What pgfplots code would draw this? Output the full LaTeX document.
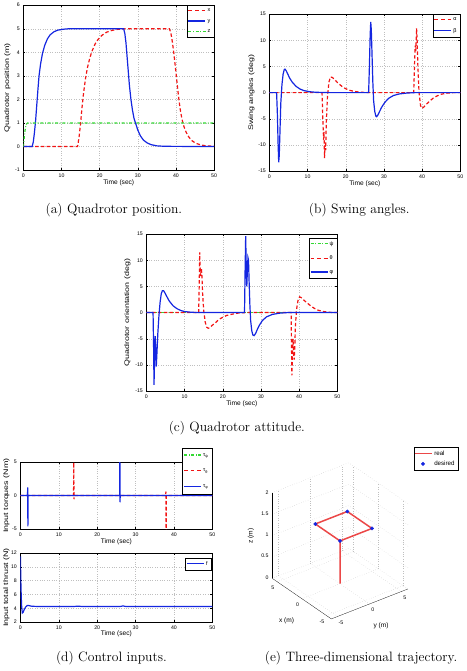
\documentclass[border=0pt]{standalone}
\usepackage{fontspec}
\usepackage{pgfplots}
\pgfplotsset{compat=1.18}
\newfontfamily\hv{Liberation Sans}
\definecolor{mred}{rgb}{0.95,0.08,0.08}
\definecolor{mblue}{rgb}{0.08,0.15,0.88}
\definecolor{mgreen}{rgb}{0.2,0.85,0.2}
\definecolor{tred}{rgb}{0.92,0.28,0.28}
\newcommand\lsolid[2][1.2pt]{\textcolor{#2}{\rule[-0.6pt]{17pt}{#1}}}
\newcommand\ldash[1]{\textcolor{#1}{\rule[-0.6pt]{3.8pt}{1.2pt}\kern2.8pt\rule[-0.6pt]{3.8pt}{1.2pt}\kern2.8pt\rule[-0.6pt]{3.8pt}{1.2pt}}}
\newcommand\ldd[1]{\textcolor{#1}{\rule[-0.6pt]{3pt}{1.2pt}\kern1.6pt\rule[-0.6pt]{0.9pt}{1.2pt}\kern1.6pt\rule[-0.6pt]{3pt}{1.2pt}\kern1.6pt\rule[-0.6pt]{0.9pt}{1.2pt}\kern1.6pt\rule[-0.6pt]{3pt}{1.2pt}}}
\pgfplotsset{
 rdash/.style={draw=mred, line width=1.2pt, dash pattern=on 3.5pt off 2.3pt,
   legend image code/.code={\node[inner sep=0pt, anchor=west] at (0pt,0pt) {\ldash{mred}};}},
 bsol/.style={draw=mblue, line width=1.2pt,
   legend image code/.code={\node[inner sep=0pt, anchor=west] at (0pt,0pt) {\lsolid{mblue}};}},
 gdd/.style={draw=mgreen, line width=1.2pt, dash pattern=on 3pt off 1.8pt on 0.8pt off 1.8pt,
   legend image code/.code={\node[inner sep=0pt, anchor=west] at (0pt,0pt) {\ldd{mgreen}};}},
 base/.style={
  scale only axis,
  xmin=0, xmax=50, xtick={0,10,20,30,40,50},
  grid=major,
  major grid style={dotted, gray!50, line width=0.4pt},
  tick align=inside,
  major tick length=2pt,
  tick style={draw=black, line width=0.4pt},
  axis line style={line width=0.5pt},
  tick label style={font=\hv\fontsize{5.2}{6}\selectfont},
  /pgf/number format/assume math mode=true,
  xlabel={Time (sec)},
  every axis x label/.style={at={(axis description cs:0.5,0)}, anchor=center, yshift=-12.5pt, font=\hv\fontsize{6.6}{7}\selectfont},
  legend cell align=left,
  legend style={font=\hv\fontsize{5.5}{6}\selectfont, inner xsep=1.5pt, inner ysep=1.5pt, at={(1,1)}, anchor=north east, row sep=2pt},
 },
 ylab/.style={every axis y label/.style={at={(axis description cs:0,0.5)}, xshift=#1, rotate=90, anchor=center, xscale=1.35, font=\hv\fontsize{6.6}{7}\selectfont}},
}
\begin{document}
\begin{tikzpicture}
\path (0pt,0pt) rectangle (465pt,671pt);
% ---------------- (a)
\begin{axis}[base, at={(22pt,501pt)}, anchor=south west, width=190.7pt, height=165pt,
 ymin=-1, ymax=6, ytick={-1,0,1,2,3,4,5,6}, ylab=-16pt, ylabel={Quadrotor position (m)}]
\addplot[rdash] coordinates {(0,0) (14.2,0) (14.6,0.4) (15.0,1.0) (15.4,1.7) (15.8,2.3) (16.3,2.9) (16.8,3.35) (17.4,3.75) (18.0,4.05) (18.8,4.35) (19.6,4.55) (20.6,4.72) (21.8,4.85) (23.0,4.92) (24.5,4.97) (26,4.99) (27,5) (38.3,5) (38.7,4.8) (39.1,4.4) (39.5,3.9) (39.9,3.3) (40.3,2.7) (40.7,2.1) (41.1,1.6) (41.6,1.15) (42.1,0.85) (42.7,0.6) (43.4,0.4) (44.2,0.25) (45.2,0.14) (46.3,0.08) (47.5,0.04) (49,0.02) (50,0.01)};
\addlegendentry{x}
\addplot[bsol] coordinates {(0,0) (2.3,0) (2.6,0.2) (2.9,0.6) (3.2,1.1) (3.5,1.75) (3.8,2.4) (4.1,3.0) (4.5,3.5) (5.0,3.95) (5.6,4.3) (6.3,4.57) (7.0,4.74) (8.0,4.87) (9.0,4.94) (10.5,4.98) (12,5) (26.3,5) (26.6,4.8) (26.9,4.4) (27.2,3.8) (27.5,3.2) (27.8,2.6) (28.2,2.0) (28.6,1.55) (29.0,1.2) (29.5,0.95) (30.0,0.7) (30.7,0.45) (31.5,0.27) (32.5,0.15) (33.5,0.08) (35,0.03) (37,0.01) (50,0)};
\addlegendentry{y}
\addplot[gdd] coordinates {(0,0) (0.2,0.35) (0.4,0.65) (0.6,0.85) (0.8,0.95) (1.1,1.0) (50,1.0)};
\addlegendentry{z}
\end{axis}
% ---------------- (b)
\begin{axis}[base, at={(268pt,500pt)}, anchor=south west, width=191pt, height=157pt,
 ymin=-15, ymax=15, ytick={-15,-10,-5,0,5,10,15}, ylab=-18pt, ylabel={Swing angles (deg)}]
\addplot[rdash] coordinates {(0,0) (13.8,0) (14.0,-5) (14.2,-9) (14.3,-7.5) (14.45,-12.5) (14.6,-10) (14.75,-11) (14.9,-6) (15.2,-1) (15.6,2) (16.0,3.0) (16.5,2.9) (17.2,2.4) (18,1.8) (19,1.2) (20,0.75) (21,0.45) (22.5,0.2) (24,0.08) (26,0) (37.8,0) (38.0,5) (38.2,9) (38.35,8) (38.55,12.3) (38.7,10) (38.9,5) (39.2,0) (39.6,-2.5) (39.95,-3.0) (40.4,-2.8) (41,-2.3) (42,-1.6) (43,-1.0) (44,-0.6) (45,-0.3) (46.5,-0.1) (48,0) (50,0)};
\addlegendentry{α}
\addplot[bsol] coordinates {(0,0) (1.9,0) (2.1,-4) (2.3,-10) (2.45,-13.3) (2.6,-12) (2.8,-7) (3.0,-2) (3.3,1.5) (3.6,3.5) (3.9,4.4) (4.1,4.5) (4.4,4.2) (4.8,3.6) (5.3,2.8) (6.0,2.0) (7.0,1.2) (8.0,0.7) (9.0,0.4) (10.5,0.18) (12,0.08) (14,0.03) (16,0) (26.0,0) (26.2,5) (26.4,11) (26.55,13.5) (26.7,12) (26.9,7) (27.1,2) (27.3,-1.5) (27.6,-3.6) (27.9,-4.5) (28.1,-4.6) (28.4,-4.3) (28.8,-3.7) (29.4,-2.8) (30.2,-1.9) (31.2,-1.1) (32.5,-0.55) (34,-0.25) (36,-0.08) (38,0) (50,0)};
\addlegendentry{β}
\end{axis}
% ---------------- (c)
\begin{axis}[base, at={(145pt,280pt)}, anchor=south west, width=191pt, height=157pt,
 ymin=-15, ymax=15, ytick={-15,-10,-5,0,5,10,15}, ylab=-19pt, ylabel={Quadrotor orientation (deg)},
 legend style={at={(1,0.975)}, row sep=5pt}]
\addplot[gdd] coordinates {(0,0) (50,0)};
\addlegendentry{ψ}
\addplot[rdash] coordinates {(0,0) (13.7,0) (13.85,6) (13.96,11.5) (14.1,8) (14.25,7) (14.4,8.5) (14.55,7) (14.7,4) (15.0,0.5) (15.4,-1.8) (15.8,-2.8) (16.2,-3.0) (16.6,-2.9) (17.3,-2.4) (18,-2.0) (19,-1.3) (20,-0.9) (21,-0.55) (22.5,-0.3) (24,-0.1) (26,0) (37.9,0) (38.0,-6) (38.1,-12) (38.25,-8) (38.4,-5) (38.55,-8) (38.7,-9) (38.85,-7) (39.0,-3) (39.3,0.5) (39.7,2.3) (40.1,3.0) (40.5,2.9) (41.2,2.4) (42,1.9) (43,1.3) (44,0.8) (45,0.45) (46,0.25) (47.5,0.08) (49,0) (50,0)};
\addlegendentry{θ}
\addplot[bsol] coordinates {(0,0) (1.75,0) (1.9,-7) (2.0,-13.8) (2.15,-9) (2.3,-4.5) (2.45,-7) (2.6,-10.3) (2.75,-8) (3.0,-4) (3.3,-0.5) (3.6,2) (3.9,3.6) (4.2,4.2) (4.5,4.2) (4.9,3.7) (5.4,3.0) (6.0,2.2) (7,1.3) (8,0.75) (9,0.4) (10,0.2) (11.5,0.08) (13,0.02) (15,0) (25.7,0) (25.85,8) (26.0,14.6) (26.15,9) (26.3,5) (26.45,8) (26.6,10.5) (26.75,10) (26.9,6) (27.1,1.5) (27.3,-1.5) (27.6,-3.5) (27.9,-4.3) (28.2,-4.4) (28.6,-4.0) (29.0,-3.3) (29.6,-2.4) (30.4,-1.5) (31.5,-0.8) (33,-0.35) (35,-0.1) (37,0) (50,0)};
\addlegendentry{φ}
\end{axis}
% ---------------- (d) top
\begin{axis}[base, at={(19pt,142pt)}, anchor=south west, width=192pt, height=67pt,
 ymin=-5, ymax=5, ytick={-5,0,5}, ylab=-14pt, ylabel={Input torques (Nm)},
 legend style={at={(1,1.21)}, row sep=7.5pt, inner ysep=3pt}]
\addplot[gdd] coordinates {(0,0) (50,0)};
\addlegendentry{τ\textsubscript{ψ}}
\addplot[rdash] coordinates {(0,0) (13.85,0) (13.9,8) (13.95,-0.55) (14.0,0) (37.85,0) (37.9,0.6) (37.95,-8) (38.0,0) (50,0)};
\addlegendentry{τ\textsubscript{θ}}
\addplot[bsol] coordinates {(0,0) (1.85,0) (1.9,1.2) (1.95,-4.6) (2.0,0) (25.85,0) (25.9,8) (25.95,-1.0) (26.0,0) (50,0)};
\addlegendentry{τ\textsubscript{φ}}
\end{axis}
% ---------------- (d) bottom
\begin{axis}[base, at={(19pt,49pt)}, anchor=south west, width=192pt, height=69pt,
 ymin=2, ymax=12, ytick={2,4,6,8,10,12}, ylab=-14pt, ylabel={Input total thrust (N)},
 every axis x label/.append style={yshift=1pt},
 legend style={at={(0.995,0.93)}}]
\addplot[bsol] coordinates {(0,11.5) (0.15,7) (0.3,4.5) (0.5,3.3) (0.7,3.4) (1.0,3.8) (1.4,4.2) (1.8,4.4) (2.2,4.38) (3,4.28) (5,4.25) (14,4.25) (15,4.3) (16,4.25) (26,4.25) (26.7,4.33) (27.5,4.25) (50,4.25)};
\addlegendentry{f}
\end{axis}
% ---------------- (e)
\begin{axis}[at={(338.7pt,87.3pt)}, anchor=origin,
 x={(6.39pt,2.5pt)}, y={(-4.94pt,3.39pt)}, z={(0pt,42.8pt)},
 xmin=-6, xmax=6, ymin=-6, ymax=6, zmin=0, zmax=2,
 xtick={-5,0,5}, ytick={-5,0,5}, ztick={0,0.5,1,1.5,2},
 grid=major, major grid style={dotted, gray!50, line width=0.4pt},
 axis line style={draw=none},
 tick style={draw=none},
 tick label style={font=\hv\fontsize{5.2}{6}\selectfont},
 /pgf/number format/assume math mode=true,
 label style={font=\hv\fontsize{6.6}{7}\selectfont},
 xlabel={y (m)}, ylabel={x (m)}, zlabel={z (m)},
 zlabel style={xshift=-3pt},
 legend cell align=left,
 legend style={font=\hv\fontsize{6.2}{7}\selectfont, inner xsep=1.5pt, inner ysep=1.5pt, at={(1.37,1.1)}, anchor=north east},
]
\draw[draw=black, line width=0.5pt] (axis cs:-6,-6,0) -- (axis cs:6,-6,0);
\draw[draw=black, line width=0.5pt] (axis cs:-6,-6,0) -- (axis cs:-6,6,0);
\draw[draw=black, line width=0.5pt] (axis cs:-6,6,0) -- (axis cs:-6,6,2);
\addplot3[draw=tred, line width=1.5pt, legend image code/.code={\node[inner sep=0pt, anchor=west] at (0pt,0pt) {\lsolid[1.5pt]{tred}};}] coordinates {(0,0,0) (0,0,1) (5,0,1) (5,5,1) (0,5,1) (0,0,1)};
\addlegendentry{real}
\addplot3[only marks, mark=*, mark size=1.7pt, draw=mblue, fill=mblue] coordinates {(0,0,1) (5,0,1) (5,5,1) (0,5,1)};
\addlegendentry{desired}
\end{axis}
% ---------------- captions
\begin{scope}[font=\fontsize{13.6}{16}\selectfont]
\node at (112.5pt,461pt) {(a) Quadrotor position.};
\node at (358pt,461pt) {(b) Swing angles.};
\node at (235.5pt,242.7pt) {(c) Quadrotor attitude.};
\node at (110pt,13.3pt) {(d) Control inputs.};
\node at (359.7pt,13.3pt) {(e) Three-dimensional trajectory.};
\end{scope}
\end{tikzpicture}
\end{document}
